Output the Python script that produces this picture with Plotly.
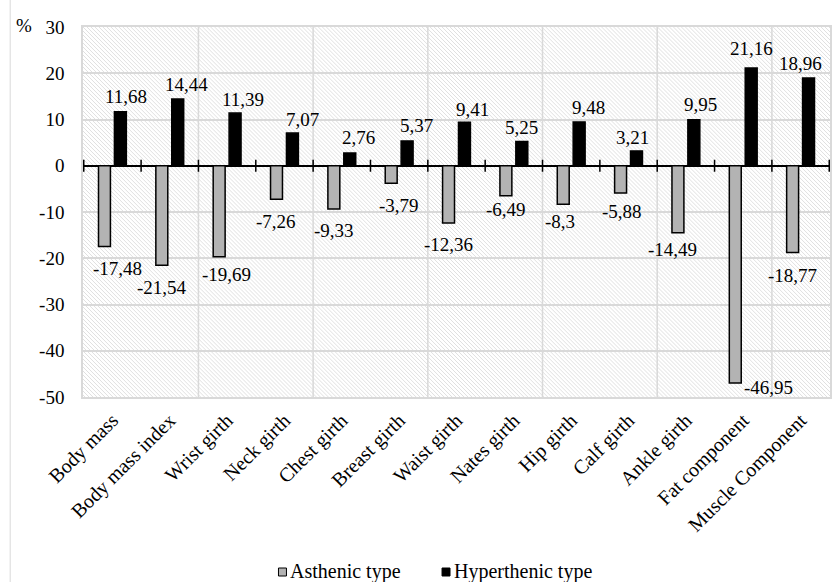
import base64
import plotly.graph_objects as go

# Measured parameters and relative changes (%) by body type
categories = [
    "Body mass", "Body mass index", "Wrist girth", "Neck girth", "Chest girth",
    "Breast girth", "Waist girth", "Nates girth", "Hip girth", "Calf girth",
    "Ankle girth", "Fat component", "Muscle Component",
]
asthenic = [-17.48, -21.54, -19.69, -7.26, -9.33, -3.79, -12.36, -6.49, -8.3,
            -5.88, -14.49, -46.95, -18.77]
hyperthenic = [11.68, 14.44, 11.39, 7.07, 2.76, 5.37, 9.41, 5.25, 9.48, 3.21,
               9.95, 21.16, 18.96]
y_ticks = [-50, -40, -30, -20, -10, 0, 10, 20, 30]

# Pixel nudges of the value labels (dx right, dy down from bar end)
hyp_dx = [6, 9, 8, 10, 9, 9, 8, 0, 9, -4, 7, 0, -8]
hyp_dy = [-15, -14, -14, -14, -15, -15, -13, -14, -14, -13, -15, -19, -15]
ast_dx = [13, 0, 7, 0, 0, 8, 0, 0, -3, 1, -5, 33, 0]
ast_dy = [22, 22, 18, 22, 22, 22, 22, 14, 17, 19, 17, 5, 23]

W, H = 832, 582
ML, MR, MT, MB = 83, 0, 27, 185
PW, PH = W - ML - MR, H - MT - MB

FONT = "Liberation Serif"
GRID = "#d9d9d9"
GRAY = "#b3b3b3"
HATCH = "#e0e0e0"


def px_x(px):
    return (px - ML) / PW


def px_y(py):
    return (H - MB - py) / PH


def fmt(v):
    return f"{v:g}".replace(".", ",")


fig = go.Figure()
fig.add_bar(x=categories, y=asthenic, name="Asthenic type",
            marker=dict(color=GRAY, line=dict(color="black", width=1.5)))
fig.add_bar(x=categories, y=hyperthenic, name="Hyperthenic type",
            marker=dict(color="black", line=dict(color="black", width=1.5)))

# Diagonal hatch fill of the plotting area
cells = "".join(
    f"<rect x='{k}' y='{k}' width='1' height='1' fill='{HATCH}'/>" for k in range(4)
)
hatch = (
    f"<svg xmlns='http://www.w3.org/2000/svg' width='{PW}' height='{PH}' "
    f"viewBox='0 0 {PW} {PH}' shape-rendering='crispEdges'>"
    f"<defs><pattern id='h' width='4' height='4' patternUnits='userSpaceOnUse'>{cells}"
    "</pattern></defs><rect width='100%' height='100%' fill='url(#h)'/></svg>"
)
hatch_uri = "data:image/svg+xml;base64," + base64.b64encode(hatch.encode()).decode()
fig.add_layout_image(source=hatch_uri, xref="paper", yref="paper", x=0, y=1,
                     sizex=1, sizey=1, xanchor="left", yanchor="top",
                     sizing="stretch", layer="below")

shapes = []
# vertical gridlines every second category boundary
for b in range(1, len(categories) - 1, 2):
    shapes.append(dict(type="line", xref="x", yref="paper", x0=b + 0.5, x1=b + 0.5,
                       y0=0, y1=1, line=dict(color=GRID, width=1.5), layer="below"))
# cross tick marks on the zero line at every category boundary
for b in range(len(categories) + 1):
    shapes.append(dict(type="line", xref="x", yref="y", x0=b - 0.5, x1=b - 0.5,
                       ysizemode="pixel", yanchor=0, y0=-6, y1=6,
                       line=dict(color="black", width=1.5)))
# outer chart border on the left
shapes.append(dict(type="line", xref="paper", yref="paper", x0=px_x(10), x1=px_x(10),
                   y0=px_y(H), y1=px_y(0), line=dict(color=GRID, width=1)))

annotations = []
for i, c in enumerate(categories):
    annotations.append(dict(x=c, y=hyperthenic[i], xref="x", yref="y",
                            text=fmt(hyperthenic[i]), showarrow=False,
                            xanchor="center", yanchor="middle",
                            xshift=8 + hyp_dx[i], yshift=-hyp_dy[i],
                            font=dict(family=FONT, size=19, color="black")))
    annotations.append(dict(x=c, y=asthenic[i], xref="x", yref="y",
                            text=fmt(asthenic[i]), showarrow=False,
                            xanchor="center", yanchor="middle",
                            xshift=-8 + ast_dx[i], yshift=-ast_dy[i],
                            font=dict(family=FONT, size=19, color="black")))

annotations.append(dict(x=px_x(24), y=30, xref="paper", yref="y", text="%",
                        showarrow=False, xanchor="center", yanchor="middle", yshift=2,
                        font=dict(family=FONT, size=19, color="black")))

# legend entries
legend_items = [("Asthenic type", GRAY, 283), ("Hyperthenic type", "black", 447)]
for name, color, cx in legend_items:
    shapes.append(dict(type="rect", xref="paper", yref="paper",
                       x0=px_x(cx - 4), x1=px_x(cx + 4), y0=px_y(576), y1=px_y(568),
                       fillcolor=color, line=dict(color="black", width=1)))
    annotations.append(dict(x=px_x(cx + 6), y=px_y(571), xref="paper", yref="paper",
                            text=name, showarrow=False, xanchor="left", yanchor="middle",
                            font=dict(family=FONT, size=20, color="black")))

fig.update_layout(
    width=W, height=H,
    margin=dict(l=ML, r=MR, t=MT, b=MB, pad=0),
    paper_bgcolor="white", plot_bgcolor="white",
    barmode="group", bargap=0.445, bargroupgap=0.25,
    showlegend=False,
    shapes=shapes, annotations=annotations,
    font=dict(family=FONT, color="black"),
)
fig.update_xaxes(type="category", showgrid=False, ticks="", tickangle=-45,
                 tickfont=dict(family=FONT, size=20, color="black"),
                 showline=True, linecolor=GRID, linewidth=1.5, mirror=True,
                 ticklabelstandoff=2)
fig.update_yaxes(range=[-50, 30], tickvals=y_ticks,
                 ticktext=[str(t) for t in y_ticks],
                 showgrid=True, gridcolor=GRID,
                 gridwidth=1.5, zeroline=True, zerolinecolor="black", zerolinewidth=2,
                 ticks="", tickfont=dict(family=FONT, size=19, color="black"),
                 showline=True, linecolor=GRID, linewidth=1.5, mirror=True,
                 ticklabelstandoff=13)

fig.write_html("out.html")
